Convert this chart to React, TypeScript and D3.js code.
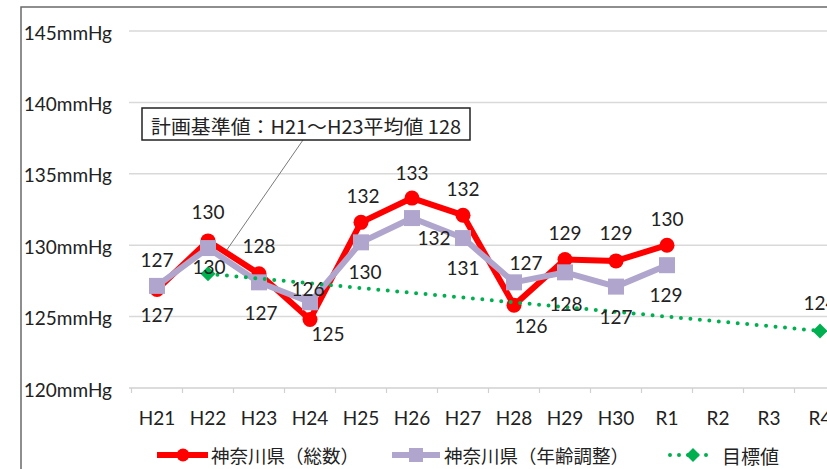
import React from 'react';
import * as d3 from 'd3';

// Fiscal years on the category axis
const categories = ['H21', 'H22', 'H23', 'H24', 'H25', 'H26', 'H27', 'H28', 'H29', 'H30', 'R1', 'R2', 'R3', 'R4'];

// Systolic blood pressure (mmHg), Kanagawa prefecture
const totalValues = [126.9, 130.3, 128.0, 124.8, 131.6, 133.3, 132.1, 125.8, 129.0, 128.9, 130.0];
const adjustedValues = [127.15, 129.8, 127.4, 126.0, 130.2, 131.9, 130.5, 127.4, 128.1, 127.1, 128.6];
const targetValues: (number | null)[] = [null, 128, null, null, null, null, null, null, null, null, null, null, null, 124];

const yTicks = [120, 125, 130, 135, 140, 145];
const seriesNames = ['神奈川県（総数）', '神奈川県（年齢調整）', '目標値'];
const baselineNote = '計画基準値：H21〜H23平均値 128';

// Data-label placement (dx, dy from the marker)
const totalLabelOffsets = [[0, -30], [0, -29], [0, -28], [18, 14], [2, -27], [0, -26], [0, -27], [17, 20], [0, -27], [0, -28], [0, -27]];
const adjustedLabelOffsets = [[0, 29], [1, 18], [2, 30], [-2, -14], [4, 29], [22, 19], [0, 29], [12, -20], [1, 31], [0, 30], [-1, 29]];
const targetLabelOffset = [0, -28];

const W = 827;
const H = 469;
const RED = '#ff0000';
const PURPLE = '#b0a5cc';
const GREEN = '#00b050';
const TEXT = '#222';
const NUM_FONT = 'Lato, "Open Sans", sans-serif';
const JP_FONT = '"Noto Sans CJK JP", sans-serif';

export default function App() {
  const x = d3.scaleBand<string>().domain(categories).range([131.5, 845.5]).padding(0);
  const cx = (i: number) => (x(categories[i]) as number) + x.bandwidth() / 2;
  const y = d3.scaleLinear().domain([120, 145]).range([388, 31]);

  const line = d3
    .line<[number, number]>()
    .x((d) => d[0])
    .y((d) => d[1]);

  const totalPts: [number, number][] = totalValues.map((v, i) => [cx(i), y(v)]);
  const adjPts: [number, number][] = adjustedValues.map((v, i) => [cx(i), y(v)]);
  const targetPts: [number, number][] = targetValues
    .map((v, i) => (v == null ? null : ([cx(i), y(v)] as [number, number])))
    .filter((d): d is [number, number] => d !== null);
  const targetIdx = targetValues.map((v, i) => (v == null ? -1 : i)).filter((i) => i >= 0);

  const fmt = d3.format('.0f');
  const boundaries = d3.range(categories.length + 1).map((i) => 131.5 + i * x.bandwidth());
  // square rotated 45° for the target markers
  const diamond = (r: number) => `M0,${-r} L${r},0 L0,${r} L${-r},0 Z`;
  const legendY = 455;

  return (
    <svg width={W} height={H} style={{ position: 'absolute', left: 0, top: 0, background: '#fff' }}>
      <rect x={0} y={0} width={W} height={H} fill="#fff" />
      {/* chart frame */}
      <path d={`M21,${H} V7 H${W}`} fill="none" stroke="#6a6a6a" strokeWidth={1.5} />

      {/* gridlines */}
      {yTicks.slice(1).map((t) => (
        <line key={t} x1={129} x2={846} y1={y(t)} y2={y(t)} stroke="#d9d9d9" strokeWidth={1.5} />
      ))}
      {/* category axis */}
      <line x1={129} x2={846} y1={y(120)} y2={y(120)} stroke="#d0d0d0" strokeWidth={1.5} />
      {boundaries.map((b, i) => (
        <line key={i} x1={b} x2={b} y1={y(120)} y2={y(120) + 5} stroke="#d0d0d0" strokeWidth={1.2} />
      ))}

      {/* y tick labels */}
      {yTicks.map((t) => (
        <text key={t} x={112} y={y(t) + 1} textAnchor="end" dominantBaseline="central" fontFamily={NUM_FONT} fontSize={19} fill={TEXT}>
          {`${t}mmHg`}
        </text>
      ))}
      {/* x tick labels */}
      {categories.map((c, i) => (
        <text key={c} x={cx(i)} y={417} textAnchor="middle" dominantBaseline="central" fontFamily={NUM_FONT} fontSize={19} fill={TEXT}>
          {c}
        </text>
      ))}

      {/* leader from the note to the baseline point */}
      <line x1={303} y1={140} x2={224} y2={254} stroke="#7a7a7a" strokeWidth={1} />

      {/* total series */}
      <path d={line(totalPts) as string} fill="none" stroke={RED} strokeWidth={6} strokeLinejoin="round" />
      {totalPts.map((p, i) => (
        <circle key={i} cx={p[0]} cy={p[1]} r={7.5} fill={RED} />
      ))}

      {/* age-adjusted series */}
      <path d={line(adjPts) as string} fill="none" stroke={PURPLE} strokeWidth={6} strokeLinejoin="round" />
      {adjPts.map((p, i) => (
        <rect key={i} x={p[0] - 8} y={p[1] - 8} width={16} height={16} fill={PURPLE} />
      ))}

      {/* target series */}
      <path d={line(targetPts) as string} fill="none" stroke={GREEN} strokeWidth={4} strokeDasharray="0 9.5" strokeLinecap="round" />
      {targetPts.map((p, i) => (
        <path key={i} d={diamond(7.5)} transform={`translate(${p[0]},${p[1]})`} fill={GREEN} />
      ))}

      {/* data labels */}
      {totalValues.map((v, i) => (
        <text key={`t${i}`} x={cx(i) + totalLabelOffsets[i][0]} y={y(v) + totalLabelOffsets[i][1]} textAnchor="middle" dominantBaseline="central" fontFamily={NUM_FONT} fontSize={19} fill={TEXT}>
          {fmt(v)}
        </text>
      ))}
      {adjustedValues.map((v, i) => (
        <text key={`a${i}`} x={cx(i) + adjustedLabelOffsets[i][0]} y={y(v) + adjustedLabelOffsets[i][1]} textAnchor="middle" dominantBaseline="central" fontFamily={NUM_FONT} fontSize={19} fill={TEXT}>
          {fmt(v)}
        </text>
      ))}
      {targetIdx
        .filter((i) => i === categories.length - 1)
        .map((i) => (
          <text key={`g${i}`} x={cx(i) + targetLabelOffset[0]} y={y(targetValues[i] as number) + targetLabelOffset[1]} textAnchor="middle" dominantBaseline="central" fontFamily={NUM_FONT} fontSize={19} fill={TEXT}>
            {fmt(targetValues[i] as number)}
          </text>
        ))}

      {/* baseline note */}
      <rect x={142} y={108} width={328} height={32} fill="#fff" stroke={TEXT} strokeWidth={1.5} />
      <text x={306} y={125} textAnchor="middle" dominantBaseline="central" fontFamily={JP_FONT} fontSize={19} fill={TEXT} textLength={310} lengthAdjust="spacingAndGlyphs">
        {baselineNote}
      </text>

      {/* legend */}
      <line x1={157} x2={208} y1={legendY} y2={legendY} stroke={RED} strokeWidth={6} />
      <circle cx={183} cy={legendY} r={6.5} fill={RED} />
      <text x={211} y={legendY} dominantBaseline="central" fontFamily={JP_FONT} fontSize={18.5} fill={TEXT}>
        {seriesNames[0]}
      </text>
      <line x1={392} x2={440} y1={legendY} y2={legendY} stroke={PURPLE} strokeWidth={6} />
      <rect x={409} y={legendY - 7} width={14} height={14} fill={PURPLE} />
      <text x={444} y={legendY} dominantBaseline="central" fontFamily={JP_FONT} fontSize={18.5} fill={TEXT}>
        {seriesNames[1]}
      </text>
      <line x1={670} x2={713} y1={legendY} y2={legendY} stroke={GREEN} strokeWidth={4} strokeDasharray="0 9" strokeLinecap="round" />
      <path d={diamond(7)} transform={`translate(693,${legendY})`} fill={GREEN} />
      <text x={722} y={legendY} dominantBaseline="central" fontFamily={JP_FONT} fontSize={19} fill={TEXT}>
        {seriesNames[2]}
      </text>
    </svg>
  );
}
